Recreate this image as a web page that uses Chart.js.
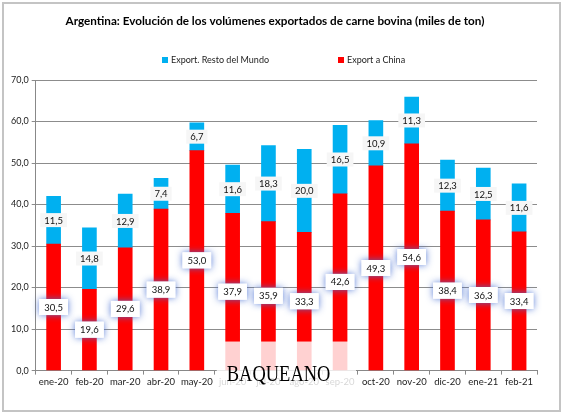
<!DOCTYPE html>
<html>
<head>
<meta charset="utf-8">
<script src="https://cdn.jsdelivr.net/npm/chart.js@4.4.1/dist/chart.umd.min.js"></script>
<style>
  html, body { margin: 0; padding: 0; background: #fff; }
  #wrap { width: 564px; height: 416px; }
</style>
</head>
<body>
<div id="wrap"><canvas id="ctx" width="564" height="416"></canvas></div>
<script>
// data (miles de ton)
const months = ["ene-20", "feb-20", "mar-20", "abr-20", "may-20", "jun-20", "jul-20",
  "ago-20", "sep-20", "oct-20", "nov-20", "dic-20", "ene-21", "feb-21"];
const china = [30.5, 19.6, 29.6, 38.9, 53.0, 37.9, 35.9, 33.3, 42.6, 49.3, 54.6, 38.4, 36.3, 33.4];
const restoMundo = [11.5, 14.8, 12.9, 7.4, 6.7, 11.6, 18.3, 20.0, 16.5, 10.9, 11.3, 12.3, 12.5, 11.6];
const titleText = "Argentina: Evolución de los volúmenes exportados de carne bovina (miles de ton)";

const FONT = "Lato, 'Open Sans', sans-serif";
const fmt = (v) => v.toFixed(1).replace(".", ",");

//Draws the frame, title and legend by hand so the spacing matches
const decorPlugin = {
  id: "decor",
  beforeDraw(chart) {
    const c = chart.ctx;
    c.save();
    c.strokeStyle = "#c4c4c4";
    c.lineWidth = 2;
    c.strokeRect(3, 3, 557, 408);

    c.fillStyle = "#000";
    c.font = "bold 11.7px " + FONT;
    c.textAlign = "center";
    c.textBaseline = "middle";
    c.fillText(titleText, 275, 21);

    // legend, reversed so the top series comes first
    c.font = "9px " + FONT;
    c.textAlign = "left";
    const items = [
      { label: chart.data.datasets[1].label, color: chart.data.datasets[1].backgroundColor, x: 162 },
      { label: chart.data.datasets[0].label, color: chart.data.datasets[0].backgroundColor, x: 338 },
    ];
    items.forEach((it) => {
      c.fillStyle = it.color;
      c.fillRect(it.x, 57, 6, 6);
      c.fillStyle = "#222";
      c.fillText(it.label, it.x + 9, 60.5);
    });
    c.restore();
  },
  afterDatasetsDraw(chart) {
    const c = chart.ctx;
    c.save();
    c.font = "9.5px " + FONT;
    c.textAlign = "center";
    c.textBaseline = "middle";
    chart.data.datasets.forEach((ds, di) => {
      const meta = chart.getDatasetMeta(di);
      meta.data.forEach((bar, i) => {
        const cy = (bar.y + bar.base) / 2;
        const txt = fmt(ds.data[i]);
        const w = c.measureText(txt).width + 8;
        const h = 14;
        if (di === 0) {
          // china labels have a soft blue glow round the box
          c.save();
          c.shadowColor = "rgba(70,110,210,0.9)";
          c.shadowBlur = 7;
          c.fillStyle = "#fff";
          c.fillRect(bar.x - w / 2 - 1, cy - h / 2 - 1, w + 2, h + 2);
          c.restore();
          c.fillStyle = "#fff";
          c.fillRect(bar.x - w / 2 - 1, cy - h / 2 - 1, w + 2, h + 2);
        } else {
          c.fillStyle = "#f6f6f6";
          c.fillRect(bar.x - w / 2, cy - h / 2, w, h);
        }
        c.fillStyle = "#111";
        c.fillText(txt, bar.x, cy + 0.5);
      });
    });
    c.restore();
  },
  afterDraw(chart) {
    // watermark fading part of the bars and labels
    const c = chart.ctx;
    const xs = chart.scales.x;
    const ys = chart.scales.y;
    const step = xs.getPixelForValue(1) - xs.getPixelForValue(0);
    const left = xs.getPixelForValue(5) - step / 2 + 2;
    const right = xs.getPixelForValue(8) + step / 2 - 2;
    const top = ys.getPixelForValue(7);
    c.save();
    c.fillStyle = "rgba(255,255,255,0.82)";
    c.fillRect(left, top, right - left, ys.bottom - top + 20);
    c.fillStyle = "#000";
    c.font = "24px 'Liberation Serif', serif";
    c.textAlign = "left";
    c.textBaseline = "alphabetic";
    c.translate(left + 10, ys.bottom + 10);
    c.scale(0.77, 1);
    c.fillText("BAQUEANO", 0, 0);
    c.restore();
  },
};

new Chart(document.getElementById("ctx"), {
  type: "bar",
  data: {
    labels: months,
    datasets: [
      { label: "Export a China", data: china, backgroundColor: "#ff0000", barThickness: 14 },
      { label: "Export. Resto del Mundo", data: restoMundo, backgroundColor: "#00b0f0", barThickness: 14 },
    ],
  },
  options: {
    responsive: false,
    animation: false,
    devicePixelRatio: 1,
    layout: { padding: { top: 80, right: 27, bottom: 26, left: 8 } },
    plugins: { legend: { display: false }, title: { display: false }, tooltip: { enabled: false } },
    scales: {
      x: {
        stacked: true,
        grid: { display: true, drawOnChartArea: false, drawTicks: true, tickLength: 4, color: "#888", offset: true },
        border: { color: "#888" },
        ticks: { color: "#222", font: { family: FONT, size: 9.5 }, padding: 2, maxRotation: 0 },
      },
      y: {
        stacked: true,
        min: 0,
        max: 70,
        grid: { color: "#8c8c8c", tickLength: 4 },
        border: { color: "#888" },
        ticks: { stepSize: 10, color: "#222", font: { family: FONT, size: 9 }, padding: 3, callback: (v) => fmt(v) },
      },
    },
  },
  plugins: [decorPlugin],
});
</script>
</body>
</html>
